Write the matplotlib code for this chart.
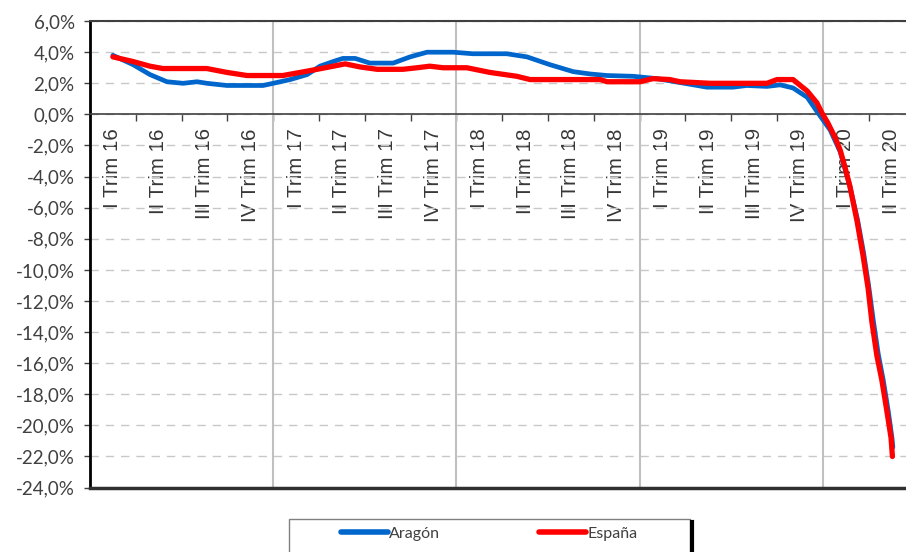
import matplotlib
matplotlib.use('Agg')
import matplotlib.pyplot as plt
import matplotlib.ticker as mticker
from matplotlib.patches import Rectangle
from matplotlib.lines import Line2D

quarters = ['I Trim 16', 'II Trim 16', 'III Trim 16', 'IV Trim 16',
            'I Trim 17', 'II Trim 17', 'III Trim 17', 'IV Trim 17',
            'I Trim 18', 'II Trim 18', 'III Trim 18', 'IV Trim 18',
            'I Trim 19', 'II Trim 19', 'III Trim 19', 'IV Trim 19',
            'I Trim 20', 'II Trim 20']

# position in quarters (0 = I Trim 16) and value in %
t_aragon = [0.0, 0.44, 0.81, 1.18, 1.53, 1.84, 2.05, 2.49, 3.28, 3.5, 3.87, 4.24,
            4.52, 4.81, 5.02, 5.29, 5.61, 6.12, 6.49, 6.86, 7.43, 7.86, 8.6, 9.04,
            9.54, 10.05, 10.42, 10.79, 11.36, 11.88, 12.38, 12.97, 13.54, 13.84,
            14.28, 14.57, 14.85, 15.16, 15.37, 15.48, 15.66, 15.88, 16.09, 16.26,
            16.39, 16.5, 16.6, 16.71, 16.82, 16.93, 17.01, 17.03]
aragon = [3.8, 3.2, 2.56, 2.1, 2.0, 2.1, 2.0, 1.86, 1.86, 2.0, 2.24, 2.56,
          3.1, 3.4, 3.6, 3.6, 3.3, 3.3, 3.7, 4.0, 4.0, 3.9, 3.9, 3.7,
          3.2, 2.75, 2.6, 2.5, 2.45, 2.3, 2.05, 1.75, 1.75, 1.86,
          1.8, 1.9, 1.7, 1.1, 0.2, -0.25, -1.0, -2.4, -4.6, -6.8,
          -8.9, -11.0, -13.2, -15.4, -17.1, -19.1, -20.8, -21.4]

t_espana = [0.0, 0.44, 0.81, 1.09, 2.05, 2.49, 2.93, 3.71, 4.09, 4.46, 4.81, 5.07,
            5.4, 5.77, 6.33, 6.64, 6.92, 7.21, 7.73, 8.23, 8.82, 9.11, 10.64, 10.79,
            11.51, 11.79, 12.16, 12.38, 13.04, 14.28, 14.5, 14.85, 15.16, 15.37,
            15.48, 15.61, 15.77, 15.88, 15.98, 16.09, 16.25, 16.38, 16.49, 16.57,
            16.68, 16.79, 16.9, 16.99, 17.02]
espana = [3.7, 3.4, 3.1, 2.95, 2.95, 2.7, 2.5, 2.5, 2.7, 2.9, 3.1, 3.25,
          3.05, 2.9, 2.9, 3.0, 3.1, 3.0, 3.0, 2.7, 2.45, 2.24, 2.24, 2.1,
          2.1, 2.3, 2.24, 2.1, 2.0, 2.0, 2.24, 2.24, 1.5, 0.75,
          0.1, -0.55, -1.5, -2.3, -3.35, -4.6, -6.9, -9.1, -11.2, -13.3,
          -15.5, -17.1, -19.1, -20.8, -22.0]

dark = '#404040'

fig = plt.figure(figsize=(9.06, 5.52), dpi=100)
ax = fig.add_axes([90 / 906, 1 - 487.6 / 552, 824.4 / 906, 466.5 / 552])

ax.set_xlim(-0.5, len(quarters) - 0.5)
ax.set_ylim(-24, 6)

# year separators
for x in [3.5, 7.5, 11.5, 15.5]:
    ax.axvline(x, color='#c0c0c0', lw=1.5, zorder=1)

ax.set_yticks(range(-24, 7, 2))
ax.yaxis.grid(True, color='#c8c8c8', lw=1, dashes=(6, 5))
ax.set_axisbelow(True)
ax.yaxis.set_major_formatter(mticker.FuncFormatter(
    lambda v, p: f'{v:.1f}%'.replace('.', ',')))
ax.tick_params(axis='y', length=4, width=1, color=dark, pad=7,
               labelsize=13.5, labelcolor=dark)
for lab in ax.get_yticklabels():
    lab.set_fontfamily('Lato')

# x axis sits at zero
ax.spines['bottom'].set_position(('data', 0))
ax.spines['bottom'].set_color(dark)
ax.spines['bottom'].set_linewidth(1.2)
ax.spines['left'].set_color('#000000')
ax.spines['left'].set_linewidth(2)
ax.spines['top'].set_color(dark)
ax.spines['top'].set_linewidth(1.5)
ax.spines['right'].set_visible(False)
ax.axhline(-24, color='#303030', lw=2.5, clip_on=False, zorder=3)

ax.set_xticks([i + 0.5 for i in range(len(quarters) - 1)])
ax.set_xticklabels([])
ax.set_xticks(range(len(quarters)), minor=True)
ax.set_xticklabels(quarters, minor=True, rotation=90, fontsize=14.8,
                   color='#383838', fontfamily='Liberation Sans')
ax.tick_params(axis='x', which='major', length=5, width=1, color=dark)
ax.tick_params(axis='x', which='minor', length=0, pad=10)

ax.plot(t_aragon, aragon, color='#0066CC', lw=3.4, solid_joinstyle='round',
        solid_capstyle='round', zorder=4)
ax.plot(t_espana, espana, color='#FF0000', lw=3.8, solid_joinstyle='round',
        solid_capstyle='round', zorder=5)

# legend box
fig.patches.append(Rectangle((289 / 906, -0.02), 401 / 906, 1 - 519 / 552 + 0.02,
                             transform=fig.transFigure, facecolor='white',
                             edgecolor='#808080', lw=1))
fig.lines.append(Line2D([692 / 906, 692 / 906], [0, 1 - 522 / 552],
                        transform=fig.transFigure, color='black', lw=3))
handles = [Line2D([], [], color='#0066CC', lw=4, solid_capstyle='round'),
           Line2D([], [], color='#FF0000', lw=4, solid_capstyle='round')]
fig.legend(handles, ['Aragón', 'España'], loc='center',
           bbox_to_anchor=(489.5 / 906, 1 - 534 / 552), ncol=2, frameon=False,
           handlelength=2.9, handletextpad=0.12, columnspacing=6.2,
           prop={'family': 'Lato', 'size': 11.5}, labelcolor=dark)

fig.savefig('out.png', dpi=100)
